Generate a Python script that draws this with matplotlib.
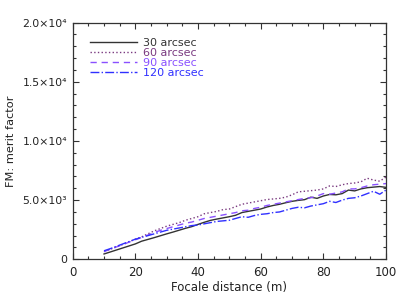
import numpy as np
import matplotlib.pyplot as plt
from matplotlib.ticker import MultipleLocator, FuncFormatter

# -----------------------
# Data
# -----------------------
focale = np.arange(10, 101, 2)

fm_30 = [450, 620, 790, 960, 1130, 1300, 1530, 1680, 1830, 1990,
         2150, 2300, 2460, 2620, 2760, 2950, 3130, 3290, 3400, 3500,
         3600, 3720, 3950, 4050, 4150, 4250, 4420, 4550, 4650, 4780,
         4900, 4980, 5040, 5250, 5150, 5350, 5480, 5450, 5550, 5850,
         5780, 5950, 6050, 6100, 6150, 6080]
fm_60 = [650, 850, 1050, 1250, 1480, 1700, 1900, 2150, 2400, 2600,
         2800, 2950, 3100, 3300, 3450, 3600, 3850, 3950, 4050, 4200,
         4250, 4450, 4650, 4750, 4850, 4950, 5050, 5100, 5150, 5250,
         5450, 5700, 5750, 5800, 5850, 5950, 6200, 6150, 6300, 6400,
         6450, 6550, 6850, 6700, 6600, 6950]
fm_90 = [650, 850, 1050, 1250, 1450, 1650, 1850, 2050, 2250, 2450,
         2600, 2750, 2900, 3050, 3150, 3300, 3450, 3550, 3650, 3750,
         3850, 3950, 4100, 4150, 4300, 4400, 4550, 4650, 4750, 4850,
         4950, 5050, 5150, 5200, 5350, 5550, 5500, 5600, 5700, 5950,
         5950, 6050, 6200, 6300, 6350, 6400]
fm_120 = [720, 900, 1100, 1300, 1500, 1700, 1850, 2000, 2150, 2300,
          2450, 2550, 2650, 2750, 2850, 2900, 3000, 3100, 3200, 3250,
          3300, 3450, 3600, 3550, 3700, 3800, 3850, 3950, 4000, 4150,
          4300, 4400, 4350, 4500, 4600, 4700, 4900, 4800, 5000, 5150,
          5200, 5350, 5550, 5750, 5500, 5850]

labels = ["30 arcsec", "60 arcsec", "90 arcsec", "120 arcsec"]
colors = ["#333333", "#7a3a80", "#8a50ff", "#3030ff"]
styles = ["-", ":", (0, (4.5, 3.5)), "-."]

# -----------------------
# Plot
# -----------------------
plt.rcParams["font.family"] = "DejaVu Sans"
fig = plt.figure(figsize=(4.07, 3.06), dpi=100)
ax = fig.add_axes([0.1786, 0.1526, 0.7698, 0.7734])

for ys, lab, c, ls in zip([fm_30, fm_60, fm_90, fm_120], labels, colors, styles):
    ax.plot(focale, ys, color=c, linestyle=ls, linewidth=1.0, label=lab)

ax.set_xlim(0, 100)
ax.set_ylim(0, 2.0e4)
ax.xaxis.set_major_locator(MultipleLocator(20))
ax.xaxis.set_minor_locator(MultipleLocator(5))
ax.yaxis.set_major_locator(MultipleLocator(5000))
ax.yaxis.set_minor_locator(MultipleLocator(1000))

SUP = str.maketrans("0123456789", "⁰¹²³⁴⁵⁶⁷⁸⁹")


def sci_fmt(v, pos):
    if v <= 0:
        return "0"
    e = int(np.floor(np.log10(v)))
    return "%.1f×10%s" % (v / 10 ** e, str(e).translate(SUP))


ax.yaxis.set_major_formatter(FuncFormatter(sci_fmt))
ax.tick_params(which="both", direction="in", top=True, right=True,
               colors="#333333", labelcolor="#222222")
ax.tick_params(axis="x", labelsize=8.5, pad=5)
ax.tick_params(axis="y", labelsize=7.8, pad=4)
ax.tick_params(which="major", length=4.5, width=0.8)
ax.tick_params(which="minor", length=2.5, width=0.8)
for sp in ax.spines.values():
    sp.set_color("#333333")
    sp.set_linewidth(0.9)

ax.set_xlabel("Focale distance (m)", fontsize=8.5, color="#222222", labelpad=1)
ax.set_ylabel("FM: merit factor", fontsize=8.2, color="#222222", labelpad=5)

ax.legend(loc="upper left", frameon=False, fontsize=8, handlelength=4.3,
          labelspacing=0.0, handletextpad=0.5, borderaxespad=0.0,
          handleheight=0.5, bbox_to_anchor=(0.04, 0.955), labelcolor=colors)

plt.savefig("out.png", dpi=100)
